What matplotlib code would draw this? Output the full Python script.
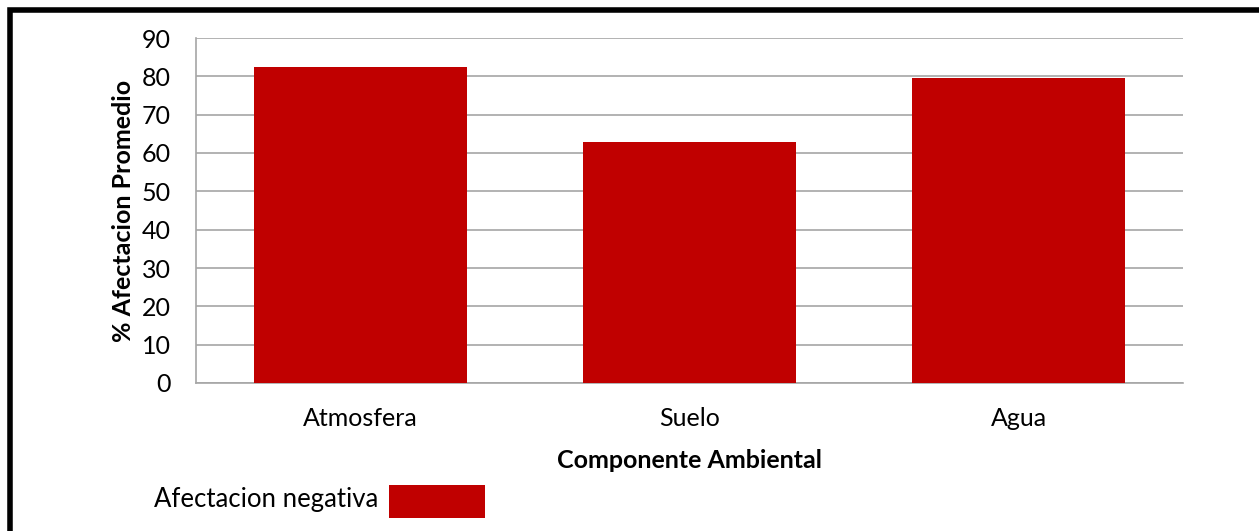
import matplotlib.pyplot as plt
from matplotlib.patches import Rectangle

# Average negative impact per environmental component
componentes = ["Atmosfera", "Suelo", "Agua"]
afectacion = [82.5, 62.8, 79.6]
yticks = list(range(0, 100, 10))

rojo = "#C00000"
gris = "#A6A6A6"

plt.rcParams["font.family"] = ["Lato", "DejaVu Sans"]

fig = plt.figure(figsize=(12.59, 5.31), dpi=100)
ax = fig.add_axes([196 / 1259, 1 - 383 / 531, 987 / 1259, 345 / 531])

x = range(len(componentes))
ax.bar(x, afectacion, width=0.645, color=rojo, zorder=3)

ax.set_xlim(-0.5, len(componentes) - 0.5)
ax.set_ylim(0, 90)
ax.set_yticks(yticks)
ax.set_xticks(list(x))
ax.set_xticklabels(componentes)
ax.tick_params(axis="both", length=0, labelsize=18)
ax.tick_params(axis="x", pad=17)
ax.tick_params(axis="y", pad=18)
ax.grid(axis="y", color=gris, linewidth=1.2, zorder=0)

for side in ["top", "right"]:
    ax.spines[side].set_visible(False)
for side in ["left", "bottom"]:
    ax.spines[side].set_color(gris)
    ax.spines[side].set_linewidth(1.2)

ax.set_xlabel("Componente Ambiental", fontsize=18, fontweight="bold", labelpad=14)
ax.set_ylabel("% Afectacion Promedio", fontsize=18, fontweight="bold", labelpad=5)

# legend drawn by hand: text plus a large swatch
fig.text(154 / 1259, 1 - 499 / 531, "Afectacion negativa", fontsize=18.5, va="center", ha="left")
fig.patches.append(Rectangle((389 / 1259, 1 - 518 / 531), 96 / 1259, 33 / 531,
                             transform=fig.transFigure, facecolor=rojo, edgecolor="none"))

# outer frame (only top and left edges fall inside the canvas)
fig.patches.append(Rectangle((9.5 / 1259, -0.1), 1.2, 1 - 9.5 / 531 + 0.1,
                             transform=fig.transFigure, facecolor="none",
                             edgecolor="black", linewidth=4))

fig.savefig("out.png", dpi=100)
